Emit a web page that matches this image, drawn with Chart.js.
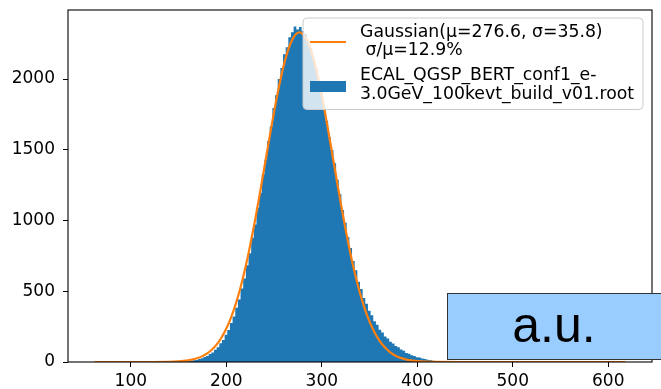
<!DOCTYPE html>
<html><head><meta charset="utf-8">
<script src="https://cdn.jsdelivr.net/npm/chart.js@4.4.1/dist/chart.umd.min.js"></script>
<style>
html,body{margin:0;padding:0;background:#fff;}
#wrap{position:relative;width:661px;height:389px;overflow:hidden;}
#au{position:absolute;left:447px;top:293px;width:240px;height:67px;background:#99ccff;border:1px solid #333;box-sizing:border-box;}
#au span{position:absolute;left:0;width:212px;top:6px;text-align:center;font-family:'Liberation Sans',Arial,sans-serif;font-size:50px;line-height:50px;color:#000;}
</style></head>
<body><div id="wrap"><canvas id="c" width="661" height="389"></canvas><div id="au"><span>a.u.</span></div></div>
<script>
// ---- data ----
const histStart = 62;
const binWidth = 2.78;
const firstBin = 31;
const counts = [0,2,3,4,6,9,13,15,22,26,35,43,56,68,87,104,132,156,193,227,276,321,384,441,520,590,684,768,878,972,1092,1196,1325,1430,1562,1665,1795,1885,2000,2078,2175,2225,2295,2330,2372,2350,2368,
  2340,2318,2262,2215,2146,2075,1985,1905,1800,1706,1590,1498,1405,1288,1186,1074,984,884,805,714,648,568,516,452,412,362,331,288,263,228,208,180,166,143,131,113,105,88,80,64,58,47,42,34,31,24,22,16,14,9,7,4,2,2,1,0];
const fitX = [62,100,140,150,160,165,170,175,180,185,190,195,200,205,210,215,220,225,230,235,240,245,250,255,260,265,270,275,276.6,280,285,290,295,300,305,310,315,320,325,330,335,340,345,350,355,360,365,370,375,380,385,390,395,400,410,420,450,500,618];
const fitY = [0,0,1.6,4.5,11.6,18.1,27.7,41.5,61.1,88.3,124.9,173.4,236.1,315.3,412.9,530.3,667.5,824.6,998.6,1186,1382,1578,1768,1942,2092,2211,2291,2328,2330,2319,2267,2172,2042,1882,1701,1508,1311,1117,934,766,616,486,376,285,212,155,111,78,53,36,24,15,10,6,2.3,0.8,0,0,0];
const xTicks = [100,200,300,400,500,600];
const xTickLabels = ['100','200','300','400','500','600'];
const yTicks = [0,500,1000,1500,2000];
const yTickLabels = ['0','500','1000','1500','2000'];
const fitLabel = ['Gaussian(\u03bc=276.6, \u03c3=35.8)', ' \u03c3/\u03bc=12.9%'];
const histLabel = ['ECAL_QGSP_BERT_conf1_e-', '3.0GeV_100kevt_build_v01.root'];

const BLUE = '#1f77b4', ORANGE = '#ff7f0e';
const FONT = "'DejaVu Sans', sans-serif";

const overlay = {
  id: 'overlay',
  afterDatasetsDraw(chart) {
    const {ctx, chartArea: a} = chart;
    ctx.save();
    ctx.strokeStyle = '#000';
    ctx.lineWidth = 1.1;
    ctx.strokeRect(a.left, a.top, a.right - a.left, a.bottom - a.top);
    const bx = a.left + 235, by = a.top + 8, bw = 340, bh = 91.5, r = 4;
    ctx.beginPath();
    ctx.moveTo(bx + r, by);
    ctx.arcTo(bx + bw, by, bx + bw, by + bh, r);
    ctx.arcTo(bx + bw, by + bh, bx, by + bh, r);
    ctx.arcTo(bx, by + bh, bx, by, r);
    ctx.arcTo(bx, by, bx + bw, by, r);
    ctx.closePath();
    ctx.fillStyle = 'rgba(255,255,255,0.8)';
    ctx.fill();
    ctx.strokeStyle = '#cccccc';
    ctx.lineWidth = 1;
    ctx.stroke();
    ctx.strokeStyle = ORANGE;
    ctx.lineWidth = 2;
    ctx.beginPath();
    ctx.moveTo(bx + 7, by + 24);
    ctx.lineTo(bx + 43, by + 24);
    ctx.stroke();
    ctx.fillStyle = BLUE;
    ctx.fillRect(bx + 7, by + 63, 36, 11);
    ctx.fillStyle = '#000';
    ctx.font = '17.3px ' + FONT;
    ctx.textBaseline = 'middle';
    ctx.textAlign = 'left';
    const tx = bx + 57;
    ctx.fillText(fitLabel[0], tx, by + 14.5);
    ctx.fillText(fitLabel[1], tx, by + 32.5);
    ctx.fillText(histLabel[0], tx, by + 58);
    ctx.fillText(histLabel[1], tx, by + 76.5);
    ctx.restore();
  }
};

new Chart(document.getElementById('c'), {
  type: 'line',
  data: {
    datasets: [
      {
        label: fitLabel.join('\n'),
        data: fitX.map((x, i) => ({x: x, y: fitY[i]})),
        borderColor: ORANGE,
        borderWidth: 2.2,
        pointRadius: 0,
        fill: false,
        cubicInterpolationMode: 'monotone',
        order: 0
      },
      {
        label: histLabel.join(''),
        data: counts.map((c, i) => ({x: histStart + binWidth * (firstBin + i + 0.5), y: c})),
        backgroundColor: BLUE,
        borderColor: 'rgba(0,0,0,0)',
        borderWidth: 0,
        pointRadius: 0,
        stepped: 'middle',
        fill: 'origin',
        order: 1
      }
    ]
  },
  options: {
    responsive: false,
    animation: false,
    events: [],
    layout: {padding: {top: 10, right: 9, left: 0, bottom: 0}},
    plugins: {legend: {display: false}, tooltip: {enabled: false}},
    scales: {
      x: {
        type: 'linear',
        offset: false,
        min: 34.2, max: 645.8,
        afterFit(s) { s.height = 27; s.paddingLeft = 0; s.paddingRight = 0; },
        afterBuildTicks(s) { s.ticks = xTicks.map(v => ({value: v})); },
        grid: {display: true, offset: false, drawOnChartArea: false, drawTicks: true, tickLength: 5, color: '#000', lineWidth: 1},
        border: {display: false},
        ticks: {font: {family: FONT, size: 17}, color: '#000', padding: 4, maxRotation: 0, autoSkip: false,
          callback: (v, i) => xTickLabels[i]}
      },
      y: {
        type: 'linear',
        min: 0, max: 2488,
        afterFit(s) { s.width = 68; s.paddingTop = 0; s.paddingBottom = 0; },
        afterBuildTicks(s) { s.ticks = yTicks.map(v => ({value: v})); },
        grid: {display: true, drawOnChartArea: false, drawTicks: true, tickLength: 5, color: '#000', lineWidth: 1},
        border: {display: false},
        ticks: {font: {family: FONT, size: 17}, color: '#000', padding: 8, autoSkip: false,
          callback: (v, i) => yTickLabels[i]}
      }
    }
  },
  plugins: [overlay]
});
</script>
</body></html>
